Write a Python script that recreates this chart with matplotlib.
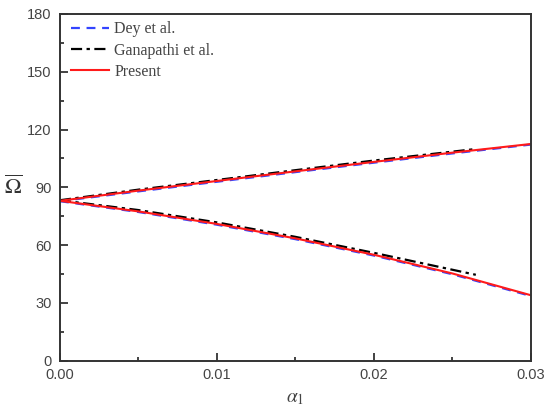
import matplotlib
matplotlib.use("Agg")
import matplotlib.pyplot as plt
from matplotlib.ticker import MultipleLocator

# Data
alpha = [0.0, 0.005, 0.01, 0.015, 0.02, 0.025, 0.03]
present_upper = [83.0, 88.3, 93.3, 98.3, 103.2, 108.0, 112.5]
present_lower = [83.0, 77.5, 71.0, 63.5, 55.0, 45.3, 34.0]
dey_upper = [82.8, 87.9, 92.9, 97.9, 102.8, 107.6, 112.2]
dey_lower = [82.8, 77.2, 70.6, 63.1, 54.6, 44.9, 33.6]
gan_alpha = [0.0, 0.005, 0.01, 0.015, 0.02, 0.0265]
gan_upper = [83.3, 88.8, 93.8, 98.9, 103.9, 109.9]
gan_lower = [83.3, 78.2, 71.8, 64.3, 56.0, 44.6]

plt.rcParams['font.family'] = ['Liberation Sans', 'DejaVu Sans']
plt.rcParams['mathtext.fontset'] = 'stix'

fig = plt.figure(figsize=(5.5, 4.11), dpi=100)
ax = fig.add_axes([0.109, 0.1224, 0.856, 0.8436])

ax.plot(alpha, dey_upper, color='#3344ff', ls=(0, (4, 3)), lw=1.6, label='Dey et al.')
ax.plot(alpha, dey_lower, color='#3344ff', ls=(0, (4, 3)), lw=1.6)
ax.plot(gan_alpha, gan_upper, color='black', ls=(0, (5, 2, 1.5, 2)), lw=1.6, label='Ganapathi et al.')
ax.plot(gan_alpha, gan_lower, color='black', ls=(0, (5, 2, 1.5, 2)), lw=1.6)
ax.plot(alpha, present_upper, color='#ff1a1a', lw=1.5, label='Present')
ax.plot(alpha, present_lower, color='#ff1a1a', lw=1.5)

ax.set_xlim(0, 0.03)
ax.set_ylim(0, 180)
ax.xaxis.set_major_locator(MultipleLocator(0.01))
ax.xaxis.set_minor_locator(MultipleLocator(0.005))
ax.yaxis.set_major_locator(MultipleLocator(30))
ax.yaxis.set_minor_locator(MultipleLocator(15))
ax.set_xticks([0, 0.01, 0.02, 0.03])
ax.set_xticklabels(['0.00', '0.01', '0.02', '0.03'])

ax.tick_params(which='both', direction='in', top=False, right=False,
               colors='#222222', labelcolor='#444444', labelsize=10.5, width=1.2)
ax.tick_params(which='major', length=6)
ax.tick_params(which='minor', length=3)
ax.tick_params(axis='y', pad=6)
ax.tick_params(axis='x', pad=5)
for s in ax.spines.values():
    s.set_linewidth(1.4)
    s.set_color('#333333')

ax.set_ylabel(r'$\overline{\Omega}$', fontsize=16, rotation=0, labelpad=10, va='center', color='#333333')
ax.set_xlabel(r'$\alpha_1$', fontsize=14, labelpad=6, color='#444444')

leg = ax.legend(loc='upper left', bbox_to_anchor=(0.01, 0.997), frameon=False,
                prop={'family': 'Liberation Serif', 'size': 11.5},
                handlelength=2.4, handletextpad=0.3, labelspacing=0.32, borderaxespad=0.0)
for t in leg.get_texts():
    t.set_color('#444444')

fig.savefig('out.png', dpi=100)
